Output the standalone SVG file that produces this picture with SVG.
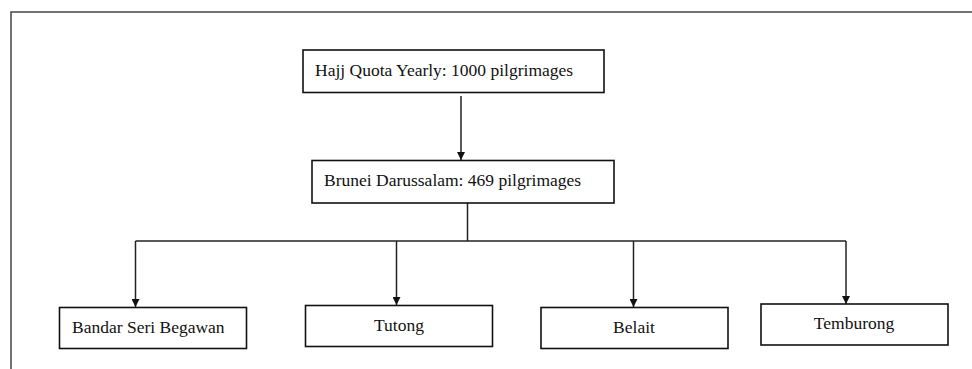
<svg xmlns="http://www.w3.org/2000/svg" width="972" height="369" viewBox="0 0 972 369">
  <style>
    .box { fill: #ffffff; stroke: #111111; stroke-width: 1.6; }
    .lbl { font-size: 17.5px; fill: #111111; }
    .mid { text-anchor: middle; }
    .wire { fill: none; stroke: #222222; stroke-width: 1.5; }
    .frame { fill: none; stroke: #444444; stroke-width: 1.5; }
  </style>
  <defs>
    <marker id="arrow" viewBox="0 0 10 10" refX="10" refY="5" markerWidth="8" markerHeight="8" markerUnits="userSpaceOnUse" orient="auto">
      <path d="M0,0 L10,5 L0,10 z" fill="#111111"/>
    </marker>
  </defs>

  <rect width="972" height="369" fill="#ffffff"/>

  <!-- page frame -->
  <path class="frame" d="M11,369 V12 H972"/>

  <!-- connectors -->
  <g id="connectors">
    <line class="wire" x1="461" y1="96" x2="461" y2="160" marker-end="url(#arrow)"/>
    <path class="wire" d="M467.5,203 V241"/>
    <path class="wire" d="M135.5,241 H846"/>
    <line class="wire" x1="135.5" y1="241" x2="135.5" y2="307" marker-end="url(#arrow)"/>
    <line class="wire" x1="396.5" y1="241" x2="396.5" y2="305" marker-end="url(#arrow)"/>
    <line class="wire" x1="633.5" y1="241" x2="633.5" y2="307" marker-end="url(#arrow)"/>
    <line class="wire" x1="846" y1="241" x2="846" y2="304" marker-end="url(#arrow)"/>
  </g>

  <g font-family="'Liberation Serif', 'DejaVu Serif', serif">
    <g id="quota">
      <rect class="box" x="303" y="50" width="301" height="42.5"/>
      <text class="lbl" x="315" y="76">Hajj Quota Yearly: 1000 pilgrimages</text>
    </g>

    <g id="brunei">
      <rect class="box" x="312" y="160.5" width="302" height="42.5"/>
      <text class="lbl" x="324" y="186">Brunei Darussalam: 469 pilgrimages</text>
    </g>

    <g id="bandar">
      <rect class="box" x="59.5" y="307.5" width="187" height="41"/>
      <text class="lbl" x="72" y="333">Bandar Seri Begawan</text>
    </g>

    <g id="tutong">
      <rect class="box" x="305.5" y="305.5" width="187" height="41"/>
      <text class="lbl mid" x="399" y="331">Tutong</text>
    </g>

    <g id="belait">
      <rect class="box" x="541" y="307.5" width="187" height="41"/>
      <text class="lbl mid" x="634" y="333">Belait</text>
    </g>

    <g id="temburong">
      <rect class="box" x="761" y="304" width="187" height="41"/>
      <text class="lbl mid" x="854" y="329">Temburong</text>
    </g>
  </g>
</svg>
